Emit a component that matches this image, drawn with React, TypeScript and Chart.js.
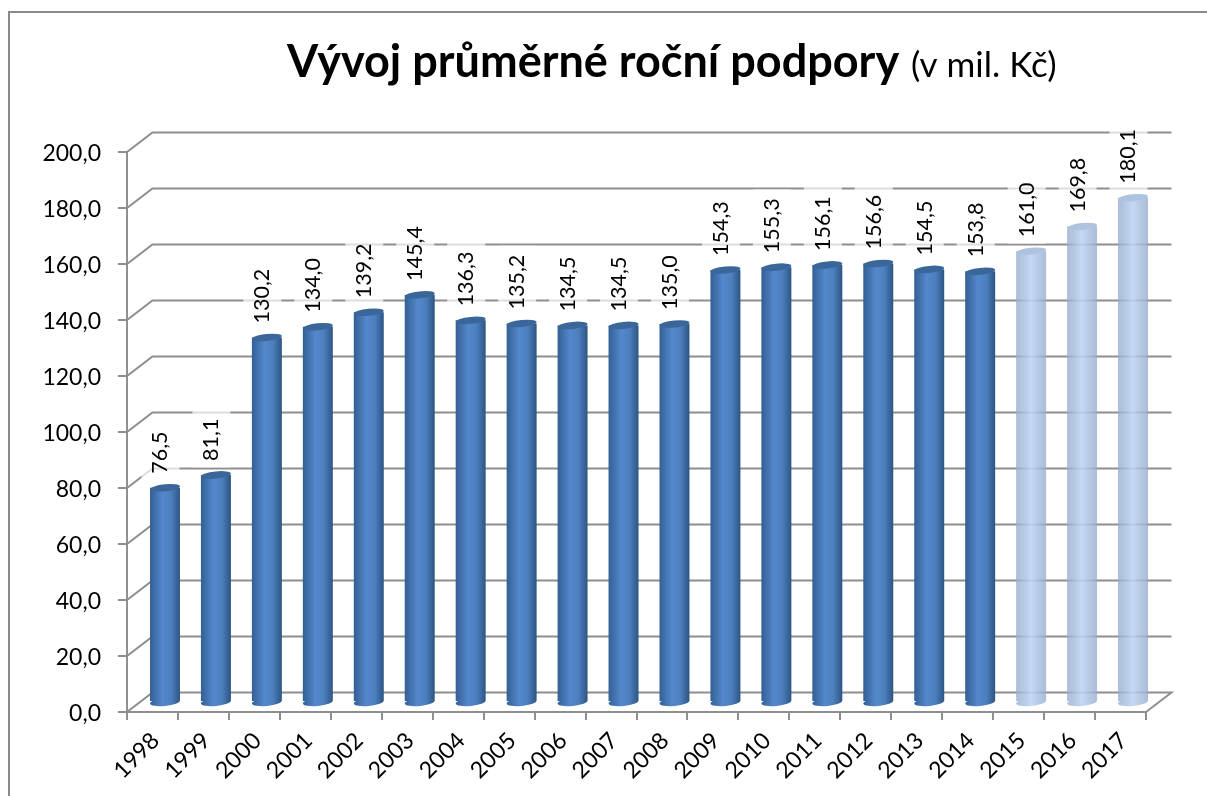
import React, { useEffect, useRef } from "react";
import { Chart, registerables } from "chart.js";

Chart.register(...registerables);

const categories = ["1998","1999","2000","2001","2002","2003","2004","2005","2006","2007","2008","2009","2010","2011","2012","2013","2014","2015","2016","2017"];
const values = [76.5,81.1,130.2,134.0,139.2,145.4,136.3,135.2,134.5,134.5,135.0,154.3,155.3,156.1,156.6,154.5,153.8,161.0,169.8,180.1];
const forecastYears = ["2015","2016","2017"];
const titleMain = "Vývoj průměrné roční podpory";
const titleUnit = "(v mil. Kč)";

const FONT = "Lato, Carlito, sans-serif";
const DX = 12.5, DY = -10, BACK_DX = 25.5, BACK_DY = -19.5;
const LABEL_SIZE = 21.5, LABEL_GAP = 14, LABEL_SHIFT = -4.5;
const fmt = (v: number) => v.toFixed(1).replace(".", ",");
const isForecast = (i: number) => forecastYears.includes(categories[i]);

function barFill(c: any) {
  const scale = c.chart.scales.x;
  const x = scale ? scale.getPixelForValue(c.dataIndex) : NaN;
  if (!Number.isFinite(x)) return "#4f81bd";
  const g = c.chart.ctx.createLinearGradient(x - 15, 0, x + 15, 0);
  if (isForecast(c.dataIndex)) {
    g.addColorStop(0, "rgba(150,172,205,0.8)");
    g.addColorStop(0.5, "rgba(190,213,243,0.9)");
    g.addColorStop(1, "rgba(150,172,205,0.8)");
  } else {
    g.addColorStop(0, "#335f94");
    g.addColorStop(0.42, "#5488cc");
    g.addColorStop(0.7, "#4d7fbe");
    g.addColorStop(1, "#2c5583");
  }
  return g;
}

const walls = {
  id: "walls",
  beforeDatasetsDraw(chart: any) {
    const { ctx, scales } = chart;
    const { x, y } = scales;
    const meta = chart.getDatasetMeta(0);
    ctx.save();
    ctx.lineWidth = 2;
    ctx.strokeStyle = "#8e8e8e";
    y.ticks.forEach((t: any) => {
      const py = y.getPixelForValue(t.value);
      ctx.beginPath();
      ctx.moveTo(x.left, py);
      ctx.lineTo(x.left + BACK_DX, py + BACK_DY);
      ctx.lineTo(x.right + BACK_DX, py + BACK_DY);
      if (t.value === 0) ctx.lineTo(x.right, py);
      ctx.stroke();
    });
    ctx.fillStyle = "rgba(255,255,255,0.7)";
    ctx.font = `${LABEL_SIZE}px ${FONT}`;
    meta.data.forEach((bar: any, i: number) => {
      const w = ctx.measureText(fmt(values[i])).width;
      const bottom = bar.y + DY - LABEL_GAP;
      ctx.fillRect(bar.x + DX + LABEL_SHIFT - 19, bottom - w - 9, 38, w + 15.5);
    });
    ctx.restore();
    ctx.save();
    ctx.translate(DX, DY);
    const zero = y.getPixelForValue(0);
    meta.data.forEach((bar: any, i: number) => {
      ctx.save();
      ctx.beginPath();
      ctx.rect(bar.x - 16, zero - 1, 32, 8);
      ctx.clip();
      ctx.fillStyle = barFill({ chart, dataIndex: i });
      ctx.beginPath();
      ctx.ellipse(bar.x, zero, 15, 4, -0.1, 0, Math.PI * 2);
      ctx.fill();
      ctx.restore();
    });
  },
  afterDatasetsDraw(chart: any) {
    const { ctx } = chart;
    const meta = chart.getDatasetMeta(0);
    meta.data.forEach((bar: any, i: number) => {
      ctx.fillStyle = isForecast(i) ? "#aec3df" : "#3a6699";
      ctx.beginPath();
      ctx.ellipse(bar.x, bar.y, 15, 3.5, -0.1, 0, Math.PI * 2);
      ctx.fill();
    });
    ctx.restore();
    ctx.save();
    ctx.fillStyle = "#000000";
    ctx.font = `${LABEL_SIZE}px ${FONT}`;
    ctx.textAlign = "left";
    ctx.textBaseline = "middle";
    meta.data.forEach((bar: any, i: number) => {
      ctx.save();
      ctx.translate(bar.x + DX + LABEL_SHIFT, bar.y + DY - LABEL_GAP);
      ctx.rotate(-Math.PI / 2);
      ctx.fillText(fmt(values[i]), 0, 0);
      ctx.restore();
    });
    ctx.restore();
  },
  afterDraw(chart: any) {
    const { ctx } = chart;
    ctx.save();
    ctx.strokeStyle = "#8a8a8a";
    ctx.lineWidth = 2;
    ctx.beginPath();
    ctx.moveTo(9, chart.height);
    ctx.lineTo(9, 12);
    ctx.lineTo(chart.width, 12);
    ctx.stroke();
    ctx.fillStyle = "#000000";
    ctx.textBaseline = "alphabetic";
    ctx.font = `bold 45px ${FONT}`;
    ctx.fillText(titleMain, 287, 77);
    ctx.font = `35px ${FONT}`;
    ctx.fillText(titleUnit, 911, 77);
    ctx.restore();
  },
};

export default function App() {
  const ref = useRef<HTMLCanvasElement>(null);
  useEffect(() => {
    const chart = new Chart(ref.current!, {
      type: "bar",
      data: {
        labels: categories,
        datasets: [{
          data: values,
          backgroundColor: barFill,
          borderWidth: 0,
          barPercentage: 1,
          categoryPercentage: 30 / 51,
          clip: false,
        }],
      },
      options: {
        animation: false,
        responsive: false,
        layout: { padding: { left: 0, right: 61, top: 152, bottom: 0 } },
        plugins: { legend: { display: false }, tooltip: { enabled: false } },
        scales: {
          x: {
            afterFit: (s: any) => { s.height = 84; },
            grid: { display: true, drawOnChartArea: false, color: "#8e8e8e", lineWidth: 2, tickLength: 8 },
            border: { color: "#8e8e8e", width: 2 },
            ticks: { color: "#000", font: { family: FONT, size: 23 }, minRotation: 45, maxRotation: 45, padding: 7, labelOffset: 3, autoSkip: false },
          },
          y: {
            min: 0,
            max: 200,
            afterFit: (s: any) => { s.width = 127; },
            grid: { display: true, drawOnChartArea: false, color: "#8e8e8e", lineWidth: 2, tickLength: 9 },
            border: { color: "#8e8e8e", width: 2 },
            ticks: { stepSize: 20, color: "#000", font: { family: FONT, size: 23 }, padding: 17, labelOffset: 2, callback: (v: any) => fmt(Number(v)) },
          },
        },
      },
      plugins: [walls],
    });
    return () => chart.destroy();
  }, []);
  return (
    <div style={{ position: "fixed", left: 0, top: 0, background: "#fff" }}>
      <canvas ref={ref} width={1207} height={796} style={{ display: "block", width: 1207, height: 796 }} />
    </div>
  );
}
